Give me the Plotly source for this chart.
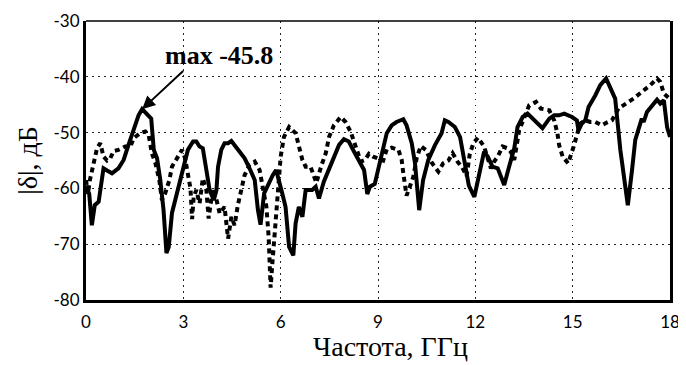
import plotly.graph_objects as go

# Solid curve
solid_f = [0.0, 0.1, 0.18, 0.27, 0.39, 0.54, 0.65, 0.8, 1.0, 1.16, 1.31, 1.47, 1.62, 1.73, 1.93, 2.01,
           2.09, 2.19, 2.29, 2.39, 2.48, 2.55, 2.65, 2.8, 2.97, 3.14, 3.3, 3.4, 3.5, 3.6, 3.71, 3.81,
           3.94, 4.02, 4.07, 4.17, 4.27, 4.38, 4.48, 4.58, 4.74, 4.89, 5.04, 5.2, 5.3, 5.38, 5.49,
           5.61, 5.76, 5.86, 5.95, 6.05, 6.15, 6.26, 6.39, 6.46, 6.56, 6.67, 6.77, 6.87, 6.97, 7.08,
           7.18, 7.33, 7.49, 7.64, 7.8, 7.95, 8.1, 8.26, 8.41, 8.57, 8.67, 8.75, 8.9, 9.11, 9.27,
           9.42, 9.57, 9.78, 9.88, 10.04, 10.14, 10.27, 10.39, 10.55, 10.76, 10.96, 11.06, 11.17,
           11.37, 11.53, 11.68, 11.8, 11.97, 12.12, 12.27, 12.38, 12.53, 12.69, 12.89, 13.04, 13.2,
           13.3, 13.46, 13.61, 13.87, 14.07, 14.28, 14.43, 14.58, 14.74, 14.98, 15.13, 15.18, 15.28,
           15.39, 15.49, 15.7, 15.85, 16.03, 16.16, 16.31, 16.47, 16.62, 16.7, 16.83, 16.93, 17.13,
           17.19, 17.29, 17.45, 17.6, 17.7, 17.81, 17.91, 18.0]
solid_v = [-59.5, -61.0, -66.6, -63.0, -62.4, -56.4, -56.8, -57.3, -56.4, -54.9, -52.2, -49.2, -46.9,
           -45.8, -46.9, -47.5, -53.1, -54.6, -58.5, -63.9, -71.6, -70.5, -64.4, -60.9, -57.0, -53.1,
           -51.6, -51.6, -52.5, -52.8, -56.7, -60.3, -62.1, -60.3, -56.1, -53.1, -51.9, -51.9, -51.5,
           -52.2, -53.4, -54.6, -56.4, -58.5, -63.9, -66.5, -60.9, -59.4, -57.6, -56.7, -58.5, -60.9,
           -63.3, -70.5, -72.0, -66.3, -63.3, -65.1, -60.3, -60.3, -60.3, -59.7, -61.8, -58.8, -56.7,
           -54.6, -52.2, -51.2, -51.6, -53.4, -54.9, -56.7, -61.0, -59.7, -59.2, -53.7, -50.1, -48.7,
           -48.1, -47.6, -48.7, -51.9, -55.5, -63.9, -58.5, -54.9, -52.2, -50.1, -47.8, -48.1, -49.0,
           -50.8, -55.5, -59.5, -61.5, -57.3, -53.4, -54.3, -56.1, -56.4, -59.4, -56.1, -52.8, -49.0,
           -47.2, -46.6, -48.1, -49.2, -47.5, -46.9, -46.9, -46.6, -47.2, -47.8, -49.6, -48.4, -47.8,
           -45.4, -43.3, -41.5, -40.3, -41.8, -43.9, -53.1, -59.1, -63.0, -56.7, -51.3, -47.5, -48.1,
           -46.3, -45.1, -44.1, -44.8, -44.2, -49.0, -50.8]

# Dashed curve
dash_f = [0.0, 0.06, 0.12, 0.24, 0.34, 0.44, 0.54, 0.65, 0.75, 0.85, 1.0, 1.21, 1.37, 1.47, 1.67, 1.83,
          1.93, 2.03, 2.14, 2.26, 2.34, 2.44, 2.57, 2.65, 2.8, 2.96, 3.05, 3.14, 3.22, 3.27, 3.32, 3.4,
          3.5, 3.6, 3.71, 3.78, 3.86, 3.91, 4.0, 4.12, 4.27, 4.38, 4.48, 4.58, 4.68, 4.79, 4.89, 5.04,
          5.2, 5.35, 5.45, 5.56, 5.63, 5.66, 5.69, 5.75, 5.81, 5.86, 5.93, 6.0, 6.1, 6.26, 6.46, 6.56,
          6.67, 6.77, 6.92, 7.03, 7.1, 7.25, 7.39, 7.49, 7.64, 7.85, 8.0, 8.16, 8.31, 8.47, 8.6, 8.72,
          8.85, 9.06, 9.16, 9.27, 9.42, 9.63, 9.73, 9.78, 9.88, 9.98, 10.09, 10.19, 10.32, 10.47,
          10.67, 10.86, 11.01, 11.17, 11.3, 11.45, 11.6, 11.73, 11.83, 11.94, 12.08, 12.27, 12.48,
          12.58, 12.69, 12.84, 12.99, 13.1, 13.2, 13.35, 13.5, 13.66, 13.87, 14.02, 14.28, 14.43,
          14.53, 14.58, 14.69, 14.86, 15.03, 15.13, 15.23, 15.39, 15.54, 15.7, 15.9, 16.05, 16.21,
          16.41, 16.67, 16.88, 17.13, 17.39, 17.6, 17.7, 17.81, 17.96, 18.0]
dash_v = [-58.5, -61.0, -58.5, -54.9, -52.8, -51.9, -54.3, -55.0, -54.6, -53.3, -53.1, -52.5, -52.5,
          -51.0, -50.1, -49.8, -50.4, -53.7, -55.5, -58.5, -62.1, -60.9, -58.5, -56.1, -54.6, -53.1,
          -54.5, -57.9, -60.0, -65.5, -61.5, -60.3, -62.7, -58.2, -60.3, -65.4, -62.7, -60.0, -61.5,
          -64.5, -63.3, -69.0, -65.1, -66.6, -63.0, -59.7, -57.6, -55.8, -55.2, -56.7, -60.3, -63.3,
          -68.7, -73.4, -77.8, -73.0, -68.1, -63.3, -58.0, -54.3, -50.8, -49.0, -50.1, -52.2, -54.9,
          -56.1, -56.1, -57.9, -59.0, -56.0, -53.7, -50.8, -48.7, -47.2, -48.1, -49.9, -52.5, -55.2,
          -54.9, -53.8, -54.3, -54.9, -55.0, -53.0, -52.7, -53.1, -54.9, -57.3, -61.3, -59.7, -57.9,
          -54.6, -52.4, -53.1, -55.5, -57.0, -55.5, -55.0, -53.7, -55.2, -56.3, -57.8, -53.8, -51.9,
          -50.9, -52.5, -56.4, -55.2, -54.3, -52.5, -52.8, -53.5, -54.9, -49.6, -47.5, -45.1, -44.5,
          -45.7, -46.0, -47.8, -50.1, -52.2, -54.3, -55.5, -52.5, -50.4, -48.4, -47.8, -48.1, -48.1,
          -48.7, -48.2, -47.8, -45.7, -44.8, -43.9, -42.7, -41.5, -40.3, -40.9, -43.0, -43.9, -44.0]

x_ticks = [0, 3, 6, 9, 12, 15, 18]
y_ticks = [-80, -70, -60, -50, -40, -30]
peak_f, peak_v = 1.73, -45.8
label_text = "max -45.8"
x_title = "Частота, ГГц"
y_title = "|δ|, дБ"

fig = go.Figure()
fig.add_trace(go.Scatter(x=dash_f, y=dash_v, mode="lines",
                         line=dict(color="black", width=4, dash="5px,4px"), showlegend=False))
fig.add_trace(go.Scatter(x=solid_f, y=solid_v, mode="lines",
                         line=dict(color="black", width=4), showlegend=False))

fig.add_annotation(x=peak_f, y=peak_v, text=" ", showarrow=True, ax=43, ay=-40,
                   arrowhead=2, arrowsize=1.3, arrowwidth=2, arrowcolor="black",
                   font=dict(size=2))
fig.add_annotation(x=4.1, y=-36.2, text="<b>" + label_text + "</b>", showarrow=False,
                   font=dict(family="Liberation Serif, Times New Roman, serif", size=26, color="black"))

# x-axis title as a paper annotation (sits a little right of centre in the reference)
fig.add_annotation(xref="paper", yref="paper", x=0.522, y=-0.167, xanchor="center", yanchor="middle",
                   text=x_title, showarrow=False,
                   font=dict(family="Liberation Serif, Times New Roman, serif", size=28, color="black"))

fig.add_shape(type="line", xref="paper", yref="paper", x0=0, x1=1, y0=1, y1=1,
              line=dict(color="black", width=1.5))

fig.update_xaxes(range=[0, 18], tickvals=x_ticks, ticktext=[str(t) for t in x_ticks],
                 automargin=False, ticklabelstandoff=5,
                 showgrid=True, gridcolor="#222", gridwidth=1.3, griddash="1.5px,4.5px",
                 showline=True, linecolor="black", linewidth=3, zeroline=False,
                 ticks="", tickfont=dict(family="Lato, Open Sans, sans-serif", size=17, color="black"))
fig.update_yaxes(range=[-80, -30], tickvals=y_ticks, ticktext=[str(t) for t in y_ticks],
                 automargin=False,
                 showgrid=True, gridcolor="#222", gridwidth=1.3, griddash="1.5px,4.5px",
                 showline=True, linecolor="black", linewidth=3, mirror=True, zeroline=False,
                 ticks="", tickfont=dict(family="Lato, Open Sans, sans-serif", size=17, color="black"),
                 title=dict(text=y_title, standoff=8,
                            font=dict(family="Liberation Serif, Times New Roman, serif", size=28, color="black")))

# page body adds an 8px margin, so the figure is drawn 8px smaller and offset
fig.update_layout(width=678, height=357, margin=dict(l=78, r=16, t=13, b=65),
                  plot_bgcolor="white", paper_bgcolor="white")

fig.write_html("out.html")
